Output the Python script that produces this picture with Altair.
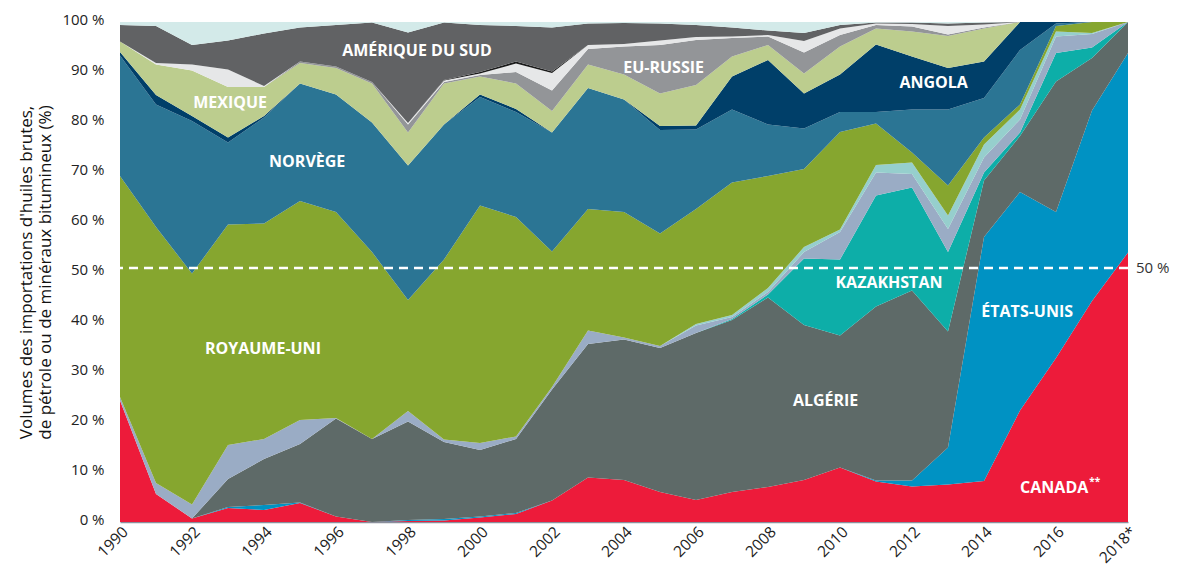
import altair as alt
import pandas as pd

years = list(range(1990, 2019))

canada = [24.3, 5.6, 0.7, 2.8, 2.4, 3.8, 1.1, 0.0, 0.2, 0.3, 0.9, 1.6, 4.3, 8.9, 8.4, 6.0, 4.4, 6.0, 7.0, 8.4, 10.9, 8.1, 7.1, 7.5, 8.2, 22.3, 32.8, 44.2, 53.9]
etats_unis = [0, 0, 0, 0.2, 1.0, 0.1, 0, 0, 0.2, 0.3, 0.2, 0.2, 0, 0, 0, 0, 0, 0, 0, 0, 0, 0.2, 1.2, 7.4, 48.8, 43.7, 29.2, 38.1, 39.9]
algerie = [0, 0, 0, 5.6, 9.2, 11.7, 19.6, 16.6, 19.7, 15.4, 13.3, 14.8, 22.2, 26.7, 28.1, 28.8, 33.4, 34.4, 37.9, 31.0, 26.4, 34.8, 38.0, 23.2, 11.3, 11.2, 26.1, 10.5, 6.2]
kazakhstan = [0, 0, 0, 0, 0, 0, 0, 0, 0, 0, 0, 0, 0, 0, 0, 0, 0, 0.2, 0.6, 13.3, 15.2, 22.2, 20.6, 15.9, 1.6, 0.7, 5.7, 2.1, 0]
autres_a = [0.7, 2.2, 2.8, 6.8, 4.0, 4.8, 0.1, 0, 2.1, 0.5, 1.4, 0.5, 0.5, 2.7, 0.4, 0.4, 1.5, 0.4, 0.5, 1.3, 5.5, 4.6, 2.7, 4.6, 3.0, 2.6, 3.3, 2.7, 0]
autres_b = [0, 0, 0, 0, 0, 0, 0, 0, 0, 0, 0, 0, 0, 0, 0, 0, 0.3, 0.4, 0.8, 1.0, 0.5, 1.5, 2.3, 2.7, 2.6, 2.0, 1.0, 0.2, 0]
royaume_uni = [44.2, 51.2, 46.2, 44.1, 43.1, 43.8, 41.2, 37.4, 22.2, 36.0, 47.5, 43.9, 27.1, 24.3, 25.1, 22.5, 23.0, 26.5, 22.4, 15.6, 19.5, 8.3, 2.0, 6.0, 1.4, 1.0, 1.1, 2.2, 0]
norvege = [24.1, 24.5, 30.5, 16.4, 21.2, 23.5, 23.5, 25.9, 26.9, 27.0, 21.7, 21.0, 23.8, 24.2, 22.5, 20.7, 15.9, 14.6, 10.3, 8.1, 4.0, 2.3, 8.6, 15.2, 7.9, 10.9, 0.5, 0, 0]
angola = [0.7, 1.9, 1.0, 1.0, 0.3, 0, 0, 0, 0, 0, 0.5, 0.6, 0, 0, 0, 0.8, 0.8, 6.6, 12.9, 7.0, 7.5, 13.5, 10.6, 8.3, 7.3, 5.6, 0.3, 0, 0]
mexique = [2.1, 6.1, 9.1, 10.1, 5.8, 4.1, 5.3, 7.8, 6.6, 8.2, 3.6, 5.1, 4.3, 4.7, 5.0, 6.5, 8.1, 4.0, 3.0, 4.0, 5.6, 3.2, 5.0, 6.4, 6.6, 0, 0, 0, 0]
eu_russie = [0, 0, 0, 0, 0, 0.3, 0.3, 0.3, 1.6, 0.3, 0.3, 2.3, 4.1, 3.1, 5.6, 9.7, 9.0, 3.7, 1.7, 4.2, 2.3, 0.7, 1.0, 0.3, 0.2, 0, 0, 0, 0]
autres_c = [0, 0.3, 1.2, 3.5, 0.2, 0, 0, 0, 0.3, 0.3, 0.3, 1.7, 3.5, 0.8, 0.5, 0.9, 0.6, 0.3, 0.3, 2.3, 1.3, 0.3, 0.5, 1.7, 0.6, 0, 0, 0, 0]
autres_d = [0, 0, 0, 0, 0, 0, 0, 0, 0, 0.1, 0.3, 0.4, 0.3, 0, 0, 0, 0, 0, 0, 0, 0, 0, 0, 0, 0, 0, 0, 0, 0]
amerique_sud = [3.3, 7.4, 3.9, 5.8, 10.5, 6.8, 8.3, 11.9, 18.1, 11.5, 9.4, 7.1, 8.8, 4.3, 4.2, 3.4, 2.4, 1.8, 0.9, 1.6, 0.7, 0.2, 0.3, 0.5, 0.4, 0, 0, 0, 0]
autres_e = [0.6, 0.8, 4.6, 3.7, 2.3, 1.1, 0.6, 0.1, 2.1, 0.1, 0.6, 0.8, 1.1, 0.3, 0.2, 0.3, 0.6, 1.1, 1.7, 2.2, 0.6, 0.1, 0.1, 0.3, 0.1, 0, 0, 0, 0]

series_names = ["Canada", "États-Unis", "Algérie", "Kazakhstan", "Autres A", "Autres B",
                "Royaume-Uni", "Norvège", "Angola", "Mexique", "EU-Russie", "Autres C",
                "Autres D", "Amérique du Sud", "Autres E"]
series_values = [canada, etats_unis, algerie, kazakhstan, autres_a, autres_b,
                 royaume_uni, norvege, angola, mexique, eu_russie, autres_c,
                 autres_d, amerique_sud, autres_e]
series_colors = ["#ED1B3A", "#0092C3", "#5E6A68", "#0DAEA8", "#9AACC5", "#96CFCD",
                 "#86A62F", "#2B7594", "#003F69", "#BCCD8E", "#939598", "#E6E7E8",
                 "#1A1A1A", "#616264", "#D3EAE9"]

label_texts = ["AMÉRIQUE DU SUD", "EU-RUSSIE", "MEXIQUE", "ANGOLA", "NORVÈGE",
               "KAZAKHSTAN", "ÉTATS-UNIS", "ROYAUME-UNI", "ALGÉRIE", "CANADA"]
label_years = [1998.25, 2005.1, 1993.06, 2012.6, 1995.2, 2011.36, 2015.2, 1993.97, 2009.6, 2015.95]
label_values = [94.2, 90.9, 83.9, 87.9, 72.0, 47.9, 42.1, 34.6, 24.3, 6.8]

rows = []
for i, (name, vals) in enumerate(zip(series_names, series_values)):
    for yr, v in zip(years, vals):
        rows.append({"annee": yr, "pays": name, "part": v, "ordre": i})
df = pd.DataFrame(rows)

labels_df = pd.DataFrame({"texte": label_texts, "annee": label_years, "valeur": label_values})

x_scale = alt.Scale(domain=[1990, 2018], nice=False, zero=False)
y_scale = alt.Scale(domain=[0, 100], nice=False)

areas = alt.Chart(df).mark_area(interpolate="linear", strokeWidth=0).encode(
    x=alt.X("annee:Q", scale=x_scale,
            axis=alt.Axis(values=list(range(1990, 2019, 2)), title=None, grid=False,
                          ticks=False, labelAngle=-45, labelAlign="right", labelBaseline="top",
                          labelPadding=2, labelFontSize=15.5, labelColor="#222",
                          domainColor="#8a8f9c", domainWidth=1.5,
                          labelExpr="datum.value == 2018 ? '2018*' : '' + datum.value")),
    y=alt.Y("part:Q", stack="zero", scale=y_scale,
            axis=alt.Axis(values=list(range(0, 101, 10)), grid=False, ticks=False, domain=False,
                          labelExpr="datum.value + ' %'", labelFontSize=15, labelColor="#222",
                          labelPadding=16, labelOffset=-3,
                          title=["Volumes des importations d'huiles brutes,",
                                 "de pétrole ou de minéraux bitumineux (%)"],
                          titleFontSize=17, titleFontWeight="normal", titleColor="#111",
                          titlePadding=7)),
    color=alt.Color("pays:N", scale=alt.Scale(domain=series_names, range=series_colors), legend=None),
    order=alt.Order("ordre:Q", sort="ascending"),
)

rule = alt.Chart(pd.DataFrame({"v": [50]})).mark_rule(
    color="white", strokeWidth=2.5, strokeDash=[9, 6], yOffset=-4
).encode(y=alt.Y("v:Q", scale=y_scale))

rule_text = alt.Chart(pd.DataFrame({"v": [50], "t": ["50 %"]})).mark_text(
    align="left", baseline="middle", fontSize=15, color="#333", font="Open Sans", dx=8, yOffset=-4
).encode(x=alt.value(1008), y=alt.Y("v:Q", scale=y_scale), text="t:N")

labels = alt.Chart(labels_df).mark_text(
    font="Open Sans", fontWeight="bold", fontSize=16, color="white", align="center", baseline="middle"
).encode(
    x=alt.X("annee:Q", scale=x_scale),
    y=alt.Y("valeur:Q", scale=y_scale),
    text="texte:N",
)

stars = alt.Chart(pd.DataFrame({"annee": [2015.95], "valeur": [6.8], "t": ["**"]})).mark_text(
    font="Open Sans", fontWeight="bold", fontSize=10, color="white", align="left", baseline="middle",
    dx=35, dy=-6
).encode(x=alt.X("annee:Q", scale=x_scale), y=alt.Y("valeur:Q", scale=y_scale), text="t:N")

chart = alt.layer(areas, rule, rule_text, labels, stars).properties(
    width=1008, height=500,
    padding={"left": 112, "top": 14, "right": 45, "bottom": 47},
    autosize=alt.AutoSizeParams(type="none"),
).configure_view(stroke=None).configure_axis(labelFont="Open Sans", titleFont="Open Sans")

chart.save("out.html", embed_options={"renderer": "svg", "actions": False})
